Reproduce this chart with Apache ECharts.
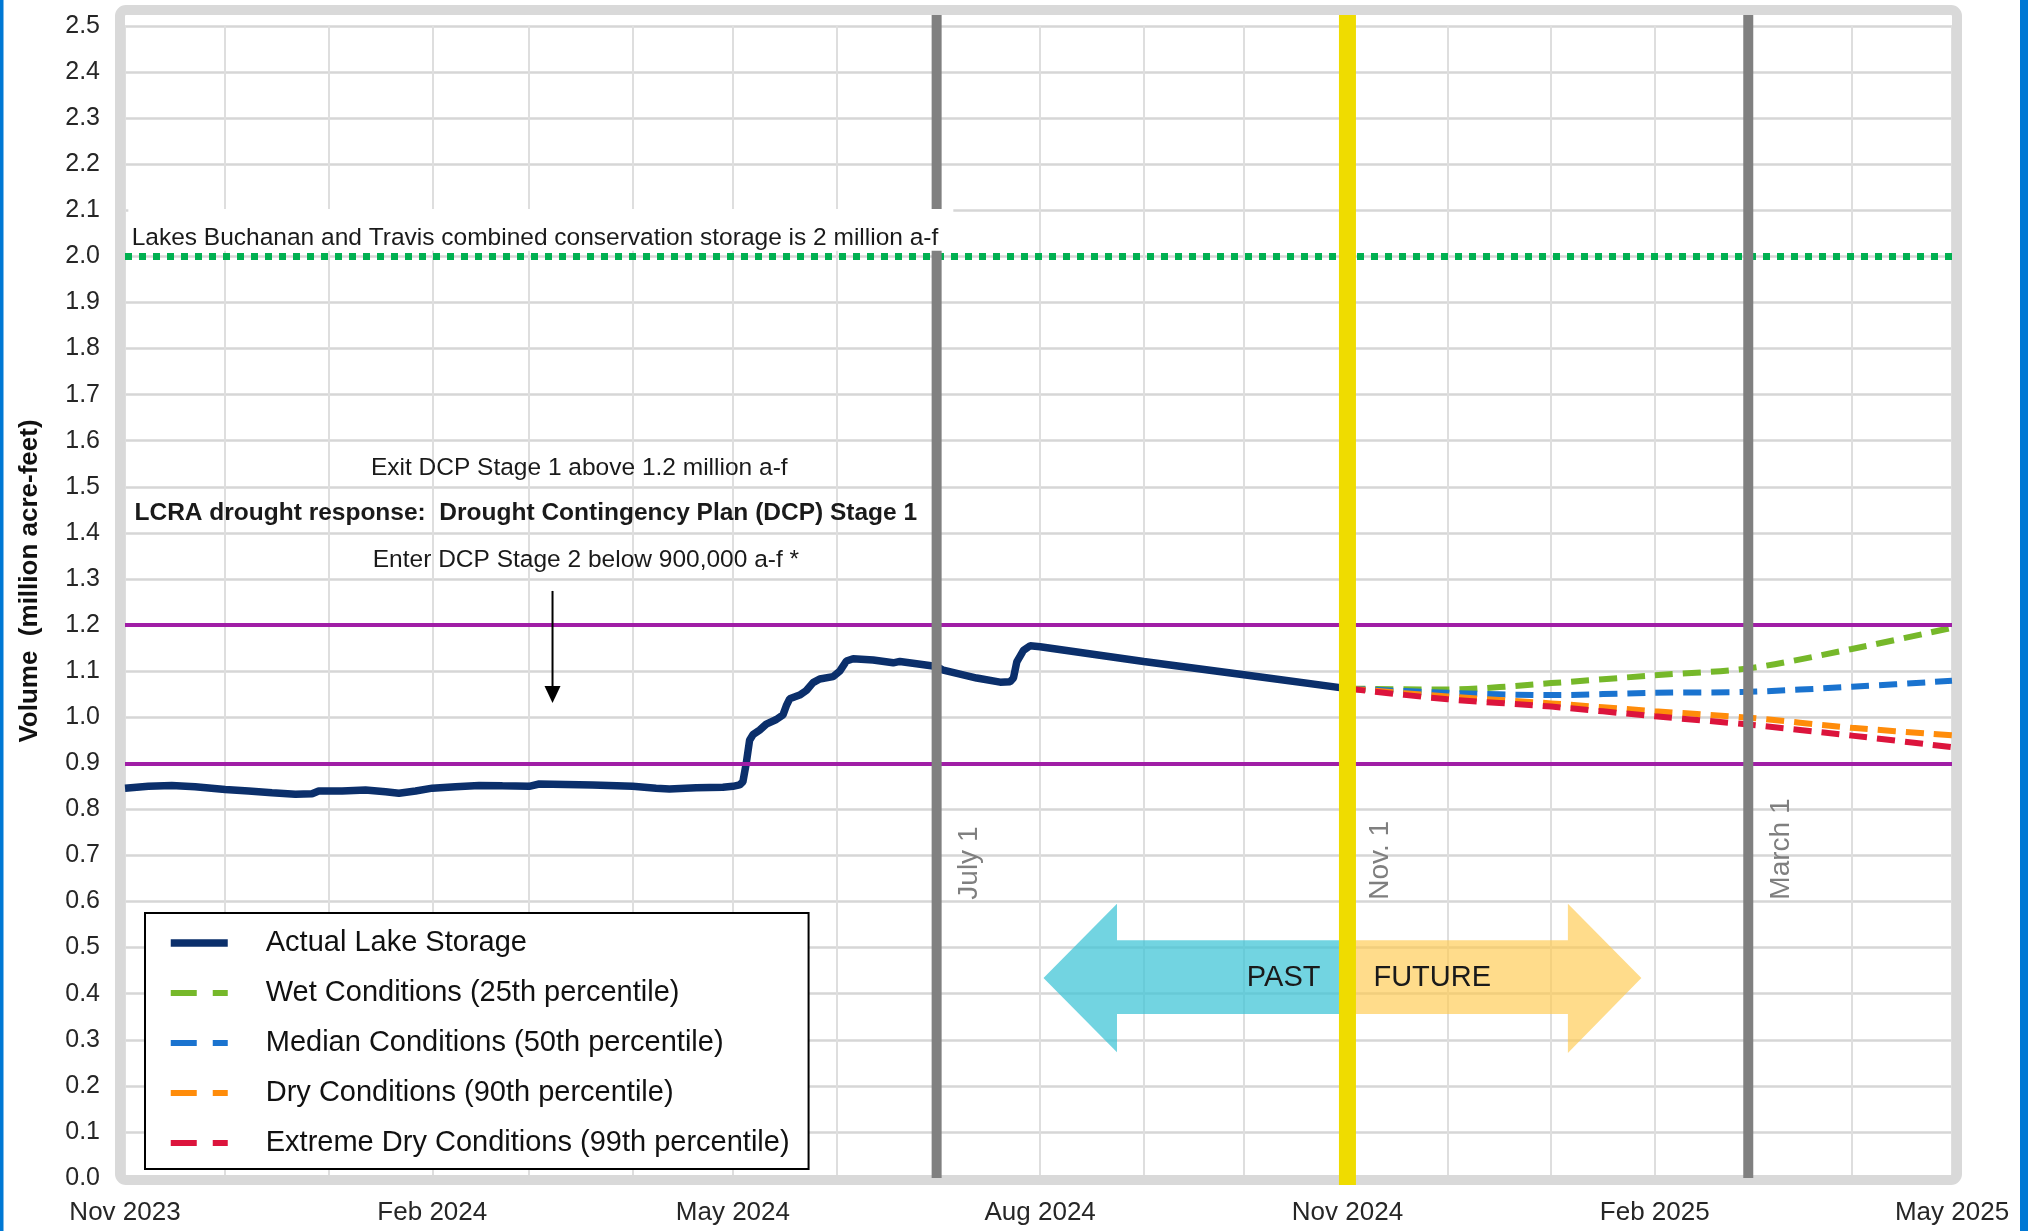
<!DOCTYPE html>
<html>
<head>
<meta charset="utf-8">
<script src="https://cdn.jsdelivr.net/npm/echarts@6/dist/echarts.min.js"></script>
<style>
  html, body { margin: 0; padding: 0; background: #ffffff; }
  #chart { width: 2028px; height: 1231px; }
</style>
</head>
<body>
<div id="chart"></div>
<script>
// ---------------- DATA ----------------
const storageDates = [
  '2023-11-01','2023-11-08','2023-11-15','2023-11-22','2023-12-01','2023-12-08','2023-12-15','2023-12-22',
  '2023-12-27','2023-12-29','2024-01-05','2024-01-12','2024-01-18','2024-01-22','2024-01-27','2024-02-01',
  '2024-02-08','2024-02-15','2024-02-22','2024-03-01','2024-03-04','2024-03-12','2024-03-20','2024-04-01',
  '2024-04-08','2024-04-12','2024-04-20','2024-04-28','2024-05-01','2024-05-03','2024-05-04','2024-05-05',
  '2024-05-06','2024-05-07','2024-05-09','2024-05-11','2024-05-14','2024-05-16','2024-05-17','2024-05-18',
  '2024-05-21','2024-05-23','2024-05-25','2024-05-27','2024-05-31','2024-06-02','2024-06-04','2024-06-06',
  '2024-06-12','2024-06-18','2024-06-20','2024-06-25','2024-07-01','2024-07-03','2024-07-13','2024-07-20',
  '2024-07-23','2024-07-24','2024-07-25','2024-07-27','2024-07-29','2024-08-01','2024-09-01','2024-10-01',
  '2024-11-01'
];
const storageValues = [
  0.846, 0.850, 0.852, 0.849, 0.843, 0.840, 0.836, 0.833,
  0.834, 0.840, 0.840, 0.842, 0.838, 0.835, 0.840, 0.846,
  0.849, 0.852, 0.851, 0.850, 0.855, 0.854, 0.853, 0.850,
  0.846, 0.844, 0.847, 0.848, 0.850, 0.853, 0.860, 0.900,
  0.950, 0.962, 0.972, 0.985, 0.995, 1.005, 1.025, 1.040,
  1.048, 1.058, 1.075, 1.083, 1.088, 1.100, 1.122, 1.127,
  1.124, 1.118, 1.121, 1.116, 1.110, 1.102, 1.085, 1.076,
  1.077, 1.085, 1.120, 1.145, 1.155, 1.153, 1.121, 1.092,
  1.062
];
const forecastDates = ['2024-11-01','2024-12-01','2025-01-01','2025-02-01','2025-03-01','2025-04-01','2025-05-01'];
const wetValues        = [1.062, 1.060, 1.074, 1.091, 1.106, 1.148, 1.194];
const medianValues     = [1.062, 1.053, 1.048, 1.053, 1.055, 1.066, 1.079];
const dryValues        = [1.062, 1.045, 1.030, 1.013, 0.999, 0.977, 0.961];
const extremeDryValues = [1.062, 1.039, 1.023, 1.002, 0.984, 0.960, 0.935];

const seriesNames = [
  'Actual Lake Storage',
  'Wet Conditions (25th percentile)',
  'Median Conditions (50th percentile)',
  'Dry Conditions (90th percentile)',
  'Extreme Dry Conditions (99th percentile)'
];

const xLabelDates = ['2023-11-01','2024-02-01','2024-05-01','2024-08-01','2024-11-01','2025-02-01','2025-05-01'];
const xLabelTexts = ['Nov 2023','Feb 2024','May 2024','Aug 2024','Nov 2024','Feb 2025','May 2025'];
const gridMonthDates = [
  '2023-11-01','2023-12-01','2024-01-01','2024-02-01','2024-03-01','2024-04-01','2024-05-01',
  '2024-06-01','2024-07-01','2024-08-01','2024-09-01','2024-10-01','2024-11-01','2024-12-01',
  '2025-01-01','2025-02-01','2025-03-01','2025-04-01','2025-05-01'
];
const yMin = 0, yMax = 2.5, yStep = 0.1;
const stageThresholds = [1.2, 0.9];
const conservationStorage = 2.0;
const markerDates  = ['2024-07-01', '2024-11-01', '2025-03-01'];
const markerLabels = ['July 1', 'Nov. 1', 'March 1'];

// ---------------- HELPERS ----------------
const FONT = '"Liberation Sans", Arial, sans-serif';
const ts = d => Date.UTC(+d.slice(0, 4), +d.slice(5, 7) - 1, +d.slice(8, 10));
const pairs = (dates, vals) => dates.map((d, i) => [ts(d), vals[i]]);

const NAVY = '#0b2f6b';
const GREEN = '#76b82a', BLUE = '#1a73cf', ORANGE = '#ff8c0a', RED = '#dc143c';
const PURPLE = '#a01ea6';
const DASH = [18, 10];

const chart = echarts.init(document.getElementById('chart'), null, { renderer: 'canvas' });

const forecastSeries = (name, vals, color) => ({
  name, type: 'line', data: pairs(forecastDates, vals), symbol: 'none', smooth: 0.3,
  lineStyle: { color, width: 6, type: DASH }, itemStyle: { color }, z: 3
});

chart.setOption({
  animation: false,
  backgroundColor: '#ffffff',
  grid: { left: 125, right: 76, top: 26, bottom: 53, containLabel: false },
  xAxis: {
    type: 'value',
    min: ts(xLabelDates[0]), max: ts(xLabelDates[xLabelDates.length - 1]),
    axisLine: { show: false },
    axisTick: { show: false, customValues: gridMonthDates.map(ts) },
    splitLine: { show: true, lineStyle: { color: '#dedede', width: 2 } },
    axisLabel: {
      customValues: xLabelDates.map(ts),
      formatter: v => { const i = xLabelDates.map(ts).indexOf(v); return i >= 0 ? xLabelTexts[i] : ''; },
      fontFamily: FONT, fontSize: 26, color: '#262626', margin: 22
    }
  },
  yAxis: {
    type: 'value', min: yMin, max: yMax, interval: yStep,
    axisLine: { show: false }, axisTick: { show: false },
    splitLine: { show: true, lineStyle: { color: '#d6d6d6', width: 2.5 } },
    axisLabel: { formatter: v => v.toFixed(1), fontFamily: FONT, fontSize: 25, color: '#262626', margin: 25 }
  },
  legend: {
    orient: 'vertical', left: 145, top: 913,
    data: seriesNames.map((n, i) => i === 0 ? { name: n } : { name: n, lineStyle: { type: [26, 16] } }),
    itemWidth: 57, itemHeight: 20, itemGap: 20,
    padding: [15, 19, 11, 22],
    borderColor: '#000', borderWidth: 2, backgroundColor: '#ffffff',
    itemStyle: { opacity: 0 },
    lineStyle: { width: 'inherit' },
    textStyle: { fontFamily: FONT, fontSize: 29, color: '#111', padding: [0, 0, 0, 33], lineHeight: 30 },
    selectedMode: false, z: 20
  },
  series: [
    {
      name: seriesNames[0], type: 'line', data: pairs(storageDates, storageValues), symbol: 'none',
      lineStyle: { color: NAVY, width: 7.5 }, itemStyle: { color: NAVY }, z: 3
    },
    forecastSeries(seriesNames[1], wetValues, GREEN),
    forecastSeries(seriesNames[2], medianValues, BLUE),
    forecastSeries(seriesNames[3], dryValues, ORANGE),
    forecastSeries(seriesNames[4], extremeDryValues, RED),
    {
      name: 'reference', type: 'line', data: [], z: 6, silent: true,
      markLine: {
        silent: true, symbol: 'none', label: { show: false }, animation: false,
        data: [
          ...stageThresholds.map(v => ({ yAxis: v, lineStyle: { color: PURPLE, width: 4, type: 'solid' } })),
          { yAxis: conservationStorage, lineStyle: { color: '#00b050', width: 7, type: [7, 7] } }
        ]
      }
    }
  ]
});

// ---------------- ANNOTATIONS (positioned through the axes) ----------------
const P = (d, v) => chart.convertToPixel({ gridIndex: 0 }, [ts(d), v]);
const graphics = [];

// blue side strips of the slide
graphics.push({ type: 'rect', shape: { x: 0, y: 0, width: 3.5, height: 1231 }, style: { fill: '#0078d4' }, z: 30 });
graphics.push({ type: 'rect', shape: { x: 2020, y: 0, width: 8, height: 1231 }, style: { fill: '#0078d4' }, z: 30 });

// plot-area frame
const tl = P(xLabelDates[0], yMax), br = P(xLabelDates[xLabelDates.length - 1], yMin);
graphics.push({
  type: 'rect', z: 1,
  shape: { x: tl[0] - 5, y: tl[1] - 16, width: br[0] - tl[0] + 10, height: br[1] - tl[1] + 18, r: 6 },
  style: { fill: null, stroke: '#d9d9d9', lineWidth: 10 }
});

// PAST / FUTURE arrows
const pastArrow = [['2024-11-01', 0.516], ['2024-08-24', 0.516], ['2024-08-24', 0.595], ['2024-08-02', 0.434],
                   ['2024-08-24', 0.273], ['2024-08-24', 0.356], ['2024-11-01', 0.356]];
const futureArrow = [['2024-11-01', 0.516], ['2025-01-06', 0.516], ['2025-01-06', 0.595], ['2025-01-28', 0.434],
                     ['2025-01-06', 0.271], ['2025-01-06', 0.356], ['2024-11-01', 0.356]];
graphics.push({ type: 'polygon', z: 1.5, shape: { points: pastArrow.map(p => P(p[0], p[1])) },
  style: { fill: '#3cc3d6', opacity: 0.72 } });
graphics.push({ type: 'polygon', z: 1.5, shape: { points: futureArrow.map(p => P(p[0], p[1])) },
  style: { fill: '#ffc94d', opacity: 0.65 } });
const nov1 = P(markerDates[1], 0.434);
graphics.push({ type: 'text', z: 8, x: nov1[0] - 27, y: nov1[1],
  style: { text: 'PAST', fontFamily: FONT, fontSize: 29, fill: '#1a1a1a', align: 'right', verticalAlign: 'middle' } });
graphics.push({ type: 'text', z: 8, x: nov1[0] + 26, y: nov1[1],
  style: { text: 'FUTURE', fontFamily: FONT, fontSize: 29, fill: '#1a1a1a', align: 'left', verticalAlign: 'middle' } });

// vertical marker lines and their labels
markerDates.forEach((d, i) => {
  const top = P(d, yMax), bot = P(d, yMin);
  const isNow = i === 1;
  graphics.push({
    type: 'line', z: 5,
    shape: { x1: top[0], y1: top[1] - 11, x2: bot[0], y2: bot[1] + (isNow ? 7 : 0) },
    style: { stroke: isNow ? '#efdc00' : '#808080', lineWidth: isNow ? 17 : 10 }
  });
  const lp = P(d, 0.604);
  graphics.push({
    type: 'text', z: 8, x: lp[0] + 33, y: lp[1], rotation: Math.PI / 2,
    style: { text: markerLabels[i], fontFamily: FONT, fontSize: 28, fill: '#7f7f7f', align: 'left', verticalAlign: 'middle' }
  });
});

// conservation storage text with white box
const boxA = P('2023-11-02', 2.103), boxB = P('2024-07-06', 2.012);
graphics.push({ type: 'rect', z: 7, shape: { x: boxA[0], y: boxA[1], width: boxB[0] - boxA[0], height: boxB[1] - boxA[1] },
  style: { fill: '#ffffff' } });
const lakesPos = P('2023-11-03', 2.04);
graphics.push({ type: 'text', z: 8, x: lakesPos[0], y: lakesPos[1],
  style: { text: 'Lakes Buchanan and Travis combined conservation storage is 2 million a-f',
    fontFamily: FONT, fontSize: 24.5, fill: '#1a1a1a', align: 'left', verticalAlign: 'middle' } });

// drought response texts
const exitPos = P('2024-03-16', 1.540), lcraPos = P('2024-02-29', 1.443), enterPos = P('2024-03-18', 1.341);
graphics.push({ type: 'text', z: 8, x: exitPos[0], y: exitPos[1],
  style: { text: 'Exit DCP Stage 1 above 1.2 million a-f', fontFamily: FONT, fontSize: 24.5, fill: '#1a1a1a', align: 'center', verticalAlign: 'middle' } });
graphics.push({ type: 'text', z: 8, x: lcraPos[0], y: lcraPos[1],
  style: { text: 'LCRA drought response:  Drought Contingency Plan (DCP) Stage 1', fontFamily: FONT, fontSize: 24.5, fontWeight: 'bold', fill: '#1a1a1a', align: 'center', verticalAlign: 'middle' } });
graphics.push({ type: 'text', z: 8, x: enterPos[0], y: enterPos[1],
  style: { text: 'Enter DCP Stage 2 below 900,000 a-f *', fontFamily: FONT, fontSize: 24.5, fill: '#1a1a1a', align: 'center', verticalAlign: 'middle' } });

// downward arrow
const arTop = P('2024-03-08', 1.274), arTip = P('2024-03-08', 1.031);
graphics.push({ type: 'line', z: 8, shape: { x1: arTop[0], y1: arTop[1], x2: arTip[0], y2: arTip[1] - 14 },
  style: { stroke: '#000', lineWidth: 2 } });
graphics.push({ type: 'polygon', z: 8, shape: { points: [[arTip[0] - 8, arTip[1] - 17], [arTip[0] + 8, arTip[1] - 17], [arTip[0], arTip[1]]] },
  style: { fill: '#000' } });

// y-axis title
graphics.push({ type: 'text', z: 8, x: 30, y: 581, rotation: Math.PI / 2,
  style: { text: 'Volume  (million acre-feet)', fontFamily: FONT, fontSize: 26, fontWeight: 'bold', fill: '#111', align: 'center', verticalAlign: 'middle' } });

chart.setOption({ graphic: graphics });
</script>
</body>
</html>
